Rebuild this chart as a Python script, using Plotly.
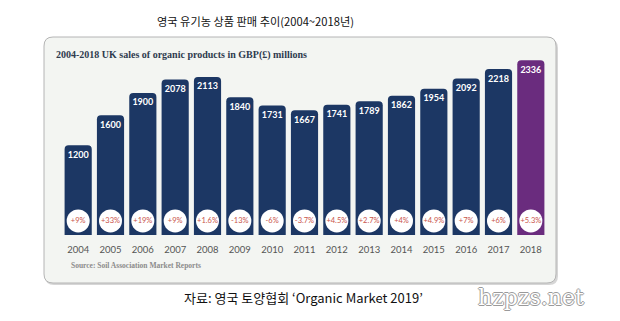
import plotly.graph_objects as go

# UK organic sales, GBP millions, and year-on-year change
years = ["2004", "2005", "2006", "2007", "2008", "2009", "2010", "2011",
         "2012", "2013", "2014", "2015", "2016", "2017", "2018"]
sales = [1200, 1600, 1900, 2078, 2113, 1840, 1731, 1667,
         1741, 1789, 1862, 1954, 2092, 2218, 2336]
growth = ["+9%", "+33%", "+19%", "+9%", "+1.6%", "-13%", "-6%", "-3.7%",
          "+4.5%", "+2.7%", "+4%", "+4.9%", "+7%", "+6%", "+5.3%"]

NAVY = "#1c3764"
PURPLE = "#6a2c7e"
bar_colors = [NAVY] * (len(years) - 1) + [PURPLE]

FIG_W, FIG_H = 620, 321
L, T, W, H = 62, 55, 485, 180  # plot area in pixels


def px(x):
    return (x - L) / W


def py(y):
    return (T + H - y) / H


def rounded_rect(x0, y0, x1, y1, r):
    """SVG path (paper coords) for a rounded rectangle given in pixels."""
    pts = [
        ("M", x0 + r, y0), ("L", x1 - r, y0), ("Q", x1, y0, x1, y0 + r),
        ("L", x1, y1 - r), ("Q", x1, y1, x1 - r, y1), ("L", x0 + r, y1),
        ("Q", x0, y1, x0, y1 - r), ("L", x0, y0 + r), ("Q", x0, y0, x0 + r, y0),
    ]
    out = []
    for p in pts:
        cmd = p[0]
        coords = p[1:]
        s = []
        for i in range(0, len(coords), 2):
            s.append(f"{px(coords[i]):.5f},{py(coords[i + 1]):.5f}")
        out.append(cmd + " " + " ".join(s))
    return " ".join(out) + " Z"


fig = go.Figure()

fig.add_trace(go.Bar(
    x=years, y=sales,
    marker=dict(color=bar_colors, line=dict(width=0)),
    text=[str(v) for v in sales],
    textposition="inside",
    insidetextanchor="end",
    textangle=0,
    constraintext="none",
    insidetextfont=dict(family="Lato", size=9, color="white", weight="bold"),
    hoverinfo="skip",
))

# white growth badges near the foot of each bar
fig.add_trace(go.Scatter(
    x=years, y=[0.078] * len(years), yaxis="y2",
    mode="markers+text",
    marker=dict(size=23, color="white", line=dict(width=0)),
    text=growth,
    textposition="middle center",
    textfont=dict(family="Lato", size=7.5, color="#c9534a"),
    hoverinfo="skip",
))

shapes = [
    # soft shadow under the panel
    dict(type="path", path=rounded_rect(45, 39, 558, 285, 9), xref="paper", yref="paper",
         fillcolor="#d6d6d6", line=dict(width=0), layer="below"),
    dict(type="path", path=rounded_rect(44, 37, 556, 283, 9), xref="paper", yref="paper",
         fillcolor="#f3f5f2", line=dict(color="#b4b4b4", width=1), layer="below"),
]

annotations = [
    dict(text="영국 유기농 상품 판매 추이(2004~2018년)", x=px(255), y=py(21),
         xref="paper", yref="paper", showarrow=False, xanchor="center", yanchor="middle",
         font=dict(family="Noto Sans CJK KR", size=11.2, color="#111111")),
    dict(text="<b>2004-2018 UK sales of organic products in GBP(£) millions</b>",
         x=px(54), y=py(55), xref="paper", yref="paper", showarrow=False,
         xanchor="left", yanchor="middle",
         font=dict(family="Liberation Serif", size=10, color="#2e3b4e")),
    dict(text="<b>Source: Soil Association Market Reports</b>",
         x=px(69), y=py(265), xref="paper", yref="paper", showarrow=False,
         xanchor="left", yanchor="middle",
         font=dict(family="Liberation Serif", size=7.5, color="#8c8c8c")),
    dict(text="자료: 영국 토양협회 ‘Organic Market 2019’", x=px(303), y=py(297),
         xref="paper", yref="paper", showarrow=False, xanchor="center", yanchor="middle",
         font=dict(family="Noto Sans CJK KR", size=13, color="#111111")),
    dict(text="hzpzs.net", x=px(531), y=py(297), xref="paper", yref="paper",
         showarrow=False, xanchor="center", yanchor="middle",
         font=dict(family="DejaVu Serif", size=22, color="white",
                   shadow="1px 0 0 #9a9a9a, -1px 0 0 #9a9a9a, 0 1px 0 #9a9a9a, 0 -1px 0 #9a9a9a")),
]

fig.update_layout(
    width=FIG_W, height=FIG_H,
    margin=dict(l=L, r=FIG_W - L - W, t=T, b=FIG_H - T - H, pad=0),
    paper_bgcolor="white", plot_bgcolor="rgba(0,0,0,0)",
    showlegend=False,
    bargap=0.16,
    barcornerradius=4,
    xaxis=dict(type="category", range=[-0.5, 14.5], showgrid=False, zeroline=False,
               showline=False, ticks="outside", ticklen=6, tickcolor="rgba(0,0,0,0)",
               tickfont=dict(family="Lato", size=9.5, color="#555555"), fixedrange=True),
    yaxis=dict(range=[0, H / 0.0748], visible=False, fixedrange=True),
    yaxis2=dict(range=[0, 1], overlaying="y", visible=False, fixedrange=True),
    shapes=shapes,
    annotations=annotations,
)

fig.write_html("out.html")
